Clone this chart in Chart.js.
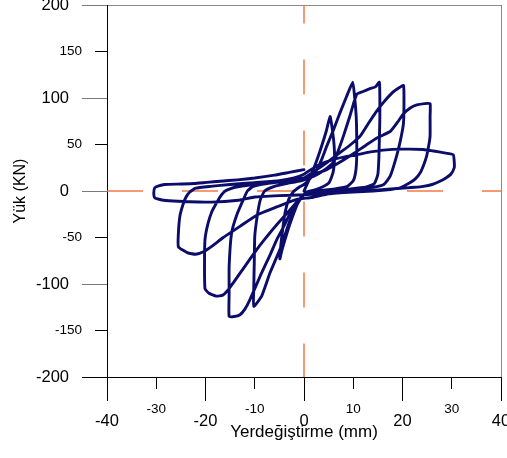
<!DOCTYPE html>
<html>
<head>
<meta charset="utf-8">
<script src="https://cdn.jsdelivr.net/npm/chart.js@4.4.1/dist/chart.umd.min.js"></script>
<style>
html, body { margin: 0; padding: 0; background: #fff; }
canvas { display: block; }
</style>
</head>
<body>
<canvas id="c" width="507" height="458"></canvas>
<script>
// Cyclic load test: one array per displacement amplitude, points as [displacement mm, load kN]
const cycle5 = [
  [0, 0], [1.2, 14], [2.4, 30], [3.5, 47], [4.5, 64], [5.3, 80],
  [5.7, 68], [6.1, 50], [6.2, 35], [5.9, 20], [5.1, 9], [3.6, 4], [2, 1], [0.5, -1],
  [-0.8, -8], [-1.8, -20], [-2.9, -36], [-3.9, -53], [-4.5, -64], [-4.9, -73],
  [-4.7, -58], [-4.3, -40], [-3.8, -22], [-3.1, -9], [-2.2, -1], [-1, 4], [0, 7]
];
const cycle10 = [
  [1.2, 13], [2.5, 22], [3.6, 34], [4.6, 48], [6, 66], [7.3, 84], [8.6, 101], [9.9, 117],
  [10.3, 100], [10.6, 80], [10.7, 59], [10.7, 36], [10.5, 21], [10, 11], [8.8, 5], [6.5, 2.5], [3.5, 0.5], [1.5, -1.5], [0, -4],
  [-1.2, -12.7], [-2.8, -31], [-4.9, -63], [-6.9, -88], [-8.6, -113], [-10.2, -124],
  [-10.2, -104], [-10.1, -78], [-10, -49], [-9.5, -27], [-8.9, -10], [-8, 0], [-6, 5], [-3.5, 8], [-1.5, 10], [0, 12]
];
const cycle15 = [
  [2, 16], [4, 22], [6, 31], [7, 44], [8, 59], [9.4, 82], [10.7, 104], [12, 107], [13.4, 110], [14.5, 112], [15.3, 117],
  [15.4, 100], [15.4, 78], [15.3, 55], [15.2, 35], [15, 18], [14.3, 8], [12.5, 4], [9, 2], [5, 0], [2, -2], [0, -4],
  [-1.4, -12], [-2.8, -23.5], [-4, -37], [-5.5, -52], [-7, -70], [-8.6, -88], [-11, -117], [-12, -127], [-13, -133], [-14.2, -135], [-15.2, -135],
  [-15.2, -110], [-15.2, -81], [-14.7, -45], [-13.6, -25], [-12.3, -9], [-11.5, 0], [-10.3, 5], [-7.5, 8], [-4.5, 10], [-2, 12], [0, 14]
];
const cycle20 = [
  [2.6, 23], [5, 32], [7.5, 42], [9.5, 50], [11.4, 59], [13, 72], [14.5, 84], [16.1, 95], [18, 106], [19.3, 111], [20.2, 113.5],
  [20.3, 100], [20.2, 73], [19.6, 55], [18.8, 37.5], [17.5, 16], [16.2, 7], [14, 4], [10, 2], [5, 0], [2, -2], [0, -4],
  [-1.5, -12], [-2.8, -20], [-4.5, -30], [-6.3, -41], [-8, -52], [-9.6, -63], [-12, -81], [-14.4, -99], [-15.5, -107], [-16.5, -112], [-17.8, -113], [-19.3, -110], [-20.1, -105],
  [-20.2, -80], [-20.1, -52], [-19.5, -35], [-18.7, -22], [-18, -15], [-17, -6], [-16, 0], [-14, 4], [-10, 7], [-6, 9], [-3, 11], [0, 14]
];
const cycle25 = [
  [2, 18], [4.6, 23], [7, 30], [10, 40], [12.5, 49], [14.8, 57], [17.5, 64], [19, 74], [20.2, 83], [21.5, 89], [22.9, 92.5], [24.5, 94], [25.6, 94],
  [25.6, 80], [25.6, 59], [25.3, 48], [24.9, 37.5], [24.3, 28], [23.6, 19.6], [22.6, 13], [21.5, 8.8], [19.5, 3.4], [17.5, 1.6], [14, 0], [10, -1], [5, -3], [1.5, -7],
  [-1.5, -9], [-5.2, -16.4], [-9.6, -26], [-13, -38], [-16.4, -50], [-18.6, -59], [-20.3, -65], [-22, -68], [-23.6, -66.5], [-25.5, -60],
  [-25.5, -45], [-25.2, -27], [-24.6, -15], [-24, -7], [-23.2, -1], [-22, 3], [-19, 5], [-15, 7], [-10, 9], [-5, 11], [-2, 14], [0, 18]
];
const cycle30 = [
  [0.5, 20], [3, 28], [6, 34], [8.5, 37], [10.7, 39], [13.5, 42], [16.1, 44], [20, 45], [24.2, 44.7], [26.3, 43], [28.5, 41], [30.3, 39],
  [30.5, 32], [30.5, 25], [29.8, 18], [28.8, 14], [27.6, 10.5], [26, 7], [24.2, 5], [22.5, 4], [20.9, 3.4], [17, 2], [12, 0], [6, -2], [0, -4],
  [-5, -5], [-10, -6.5], [-13.3, -10], [-18.7, -12], [-25.5, -11], [-28.5, -10], [-30.3, -7.3], [-30.5, -2], [-30.3, 3.5], [-29.5, 5.5], [-28.3, 7],
  [-25, 7.5], [-22.3, 8], [-19.7, 9.3], [-17, 10.5], [-13.5, 12], [-10, 14], [-6, 17], [-3, 20], [0, 23]
];

// Axis ticks and titles
const xMajorTicks = [-40, -20, 0, 20, 40];
const xMinorTicks = [-30, -10, 10, 30];
const yMajorTicks = [-200, -100, 0, 100, 200];
const yMinorTicks = [-150, -50, 50, 150];
const xTitle = 'Yerdeğiştirme (mm)';
const yTitle = 'Yük (KN)';

const curve = [].concat(cycle5, cycle10, cycle15, cycle20, cycle25, cycle30)
  .map(([x, y]) => ({ x, y }));

Chart.defaults.font.family = "'Liberation Sans', Arial, sans-serif";
Chart.defaults.color = '#000';

const useTicks = vals => scale => { scale.ticks = vals.map(v => ({ value: v })); };
// Minor-tick axes take no layout space; their labels must not be clipped to that empty box
const fixSize = (w, h, unclipped) => scale => {
  if (w !== null) scale.width = w;
  if (h !== null) scale.height = h;
  scale.paddingLeft = scale.paddingRight = scale.paddingTop = scale.paddingBottom = 0;
  if (unclipped) scale._computeLabelArea = () => undefined;
};
const hidden = 'rgba(0,0,0,0)';
const frameGrey = '#8a8a8a';
const dashColor = '#f47a48';

new Chart(document.getElementById('c'), {
  type: 'scatter',
  data: {
    datasets: [
      {
        data: curve, showLine: true, borderColor: '#0c0c6a', borderWidth: 2.9,
        pointRadius: 0, tension: 0.15, borderJoinStyle: 'round', borderCapStyle: 'round'
      },
      {
        data: [{ x: -40, y: 0 }, { x: 40, y: 0 }], showLine: true, borderColor: dashColor,
        borderWidth: 1.5, borderDash: [36, 39], pointRadius: 0
      },
      {
        data: [{ x: 0, y: 200 }, { x: 0, y: -200 }], showLine: true, borderColor: dashColor,
        borderWidth: 1.5, borderDash: [35, 36], borderDashOffset: 16.5, pointRadius: 0
      }
    ]
  },
  options: {
    responsive: false,
    devicePixelRatio: 1,
    animation: false,
    events: [],
    layout: { padding: { left: 0, right: 6, top: 5, bottom: 0 } },
    plugins: { legend: { display: false }, tooltip: { enabled: false } },
    scales: {
      x: {
        type: 'linear', position: 'bottom', weight: 1, min: -40, max: 40,
        afterBuildTicks: useTicks(xMajorTicks), afterFit: fixSize(null, 81, false),
        ticks: { autoSkip: false, maxRotation: 0, padding: 11, font: { size: 16.5 }, callback: v => String(v) },
        grid: {
          drawOnChartArea: true, drawTicks: true, tickLength: 24, lineWidth: 1,
          color: ctx => (ctx.tick && ctx.tick.value === 40 ? frameGrey : hidden), tickColor: '#000'
        },
        border: { display: true, color: '#000', width: 1 },
        title: { display: true, text: xTitle, font: { size: 17 }, padding: { top: 0, bottom: 15 } }
      },
      xMinor: {
        type: 'linear', position: 'bottom', weight: 0, min: -40, max: 40,
        afterBuildTicks: useTicks(xMinorTicks), afterFit: fixSize(null, 0, true),
        ticks: { autoSkip: false, maxRotation: 0, padding: 12, font: { size: 13.5 }, callback: v => String(v) },
        grid: { drawOnChartArea: false, drawTicks: true, tickLength: 12, color: '#000' },
        border: { display: false }
      },
      y: {
        type: 'linear', position: 'left', weight: 1, min: -200, max: 200,
        afterBuildTicks: useTicks(yMajorTicks), afterFit: fixSize(107, null, false),
        ticks: { autoSkip: false, padding: 13, font: { size: 16.5 }, callback: v => String(v) },
        grid: {
          drawOnChartArea: true, drawTicks: true, tickLength: 25, lineWidth: 1,
          color: ctx => (ctx.tick && ctx.tick.value === 200 ? frameGrey : hidden),
          tickColor: ctx => (ctx.tick && ctx.tick.value === -200 ? '#000' : '#7a7a7a')
        },
        border: { display: true, color: '#000', width: 1 },
        title: { display: true, text: yTitle, font: { size: 16 }, padding: { top: 11, bottom: 0 } }
      },
      yMinor: {
        type: 'linear', position: 'left', weight: 0, min: -200, max: 200,
        afterBuildTicks: useTicks(yMinorTicks), afterFit: fixSize(0, null, true),
        ticks: { autoSkip: false, padding: 13, font: { size: 13.5 }, callback: v => String(v) },
        grid: { drawOnChartArea: false, drawTicks: true, tickLength: 12, color: '#000' },
        border: { display: false }
      }
    }
  }
});
</script>
</body>
</html>
